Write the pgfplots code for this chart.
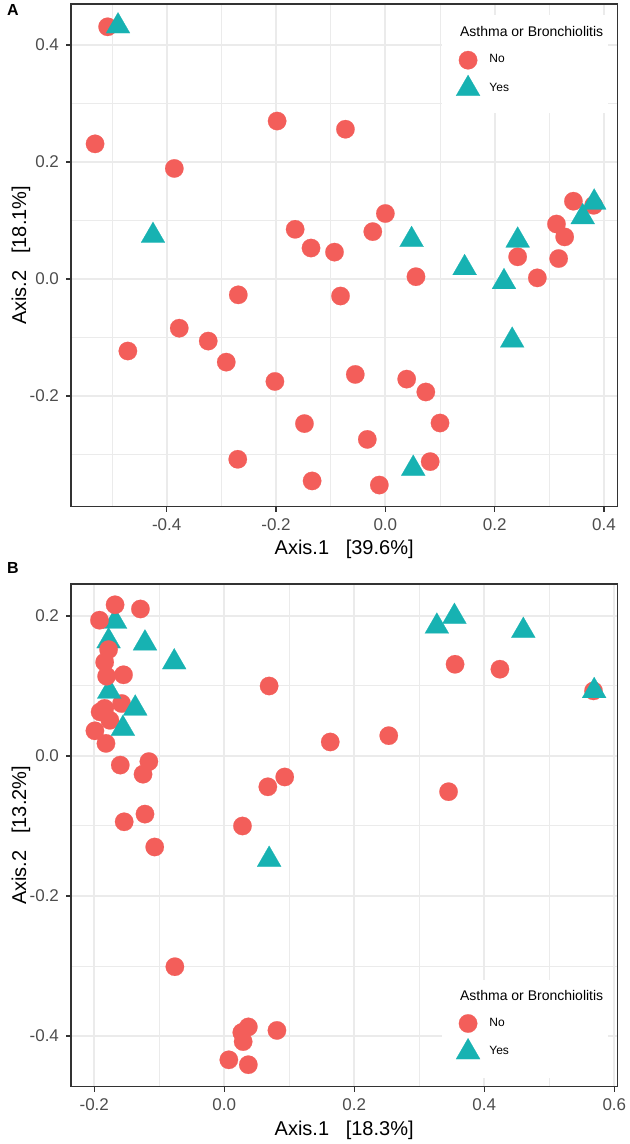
\documentclass[border=0pt]{standalone}
\usepackage{fontspec}
\setmainfont{Liberation Sans}
\usepackage{pgfplots}
\pgfplotsset{compat=1.18}
\definecolor{cRed}{RGB}{243,94,90}
\definecolor{cTeal}{RGB}{23,178,178}
\definecolor{gridc}{RGB}{235,235,235}
\definecolor{framec}{RGB}{51,51,51}
\definecolor{tickc}{RGB}{77,77,77}
\pgfplotsset{
 myaxis/.style={
  scale only axis, width=273.15pt, height=251.35pt,
  axis line style={framec, line width=0.7pt},
  tick style={framec, line width=0.7pt},
  major tick length=2.5pt, minor tick length=0pt,
  tick align=outside, xtick pos=bottom, ytick pos=left,
  grid=both,
  major grid style={gridc, line width=1pt},
  minor grid style={gridc, line width=0.5pt},
  tick label style={font=\fontsize{8.5}{10}\selectfont, text=tickc},
  label style={font=\fontsize{10.5}{12}\selectfont},
  every axis x label/.style={at={(axis description cs:0.5,-0.0961)}, anchor=base},
  every axis y label/.style={at={(axis description cs:-0.0915,0.5)}, rotate=90, anchor=center},
  legend style={draw=none, fill=none, inner sep=0pt, column sep=4.7pt, row sep=2.8pt,
    font=\fontsize{6}{7}\selectfont, nodes={inner sep=0pt}, anchor=north west},
  legend cell align=left,
 },
 noPts/.style={color=cRed, only marks, mark=*, mark size=4.6pt,
   mark options={fill=cRed, draw=cRed, line width=0.1pt},
   legend image code/.code={\draw[##1] plot coordinates {(0pt,0pt)};}},
 yesPts/.style={color=cTeal, only marks, mark=triangle*, mark size=6.9pt,
   mark options={fill=cTeal, draw=cTeal, line width=0.1pt},
   legend image code/.code={\draw[##1] plot coordinates {(0pt,0pt)};}},
}
\begin{document}
\begin{tikzpicture}
\useasboundingbox (0,0) rectangle (315pt,572pt);
% Panel A
\begin{axis}[myaxis, at={(35.5pt,318.65pt)}, anchor=south west,
  xmin=-0.575, xmax=0.4243, ymin=-0.389, ymax=0.470,
  xtick={-0.4,-0.2,0,0.2,0.4}, xticklabels={-0.4,-0.2,0.0,0.2,0.4},
  ytick={-0.2,0,0.2,0.4}, yticklabels={-0.2,0.0,0.2,0.4},
  minor xtick={-0.5,-0.3,-0.1,0.1,0.3}, minor ytick={-0.3,-0.1,0.1,0.3},
  xlabel={Axis.1\ \ \ [39.6\%]}, ylabel={Axis.2\ \ \ [18.1\%]},
  legend style={at={(axis description cs:0.7042,0.9073)}},
]
\fill[white] (axis description cs:0.6791,0.7832) rectangle (axis description cs:0.9837,0.9781);
\node[anchor=base west, font=\fontsize{7}{8}\selectfont] at (axis description cs:0.6993,0.9344) {Asthma or Bronchiolitis};
\addplot[noPts] coordinates {
(-0.508,0.431) (-0.531,0.231) (-0.386,0.189) (-0.198,0.270) (-0.073,0.256)
(-0.165,0.085) (-0.136,0.053) (-0.093,0.046) (0.000,0.112) (-0.023,0.081)
(0.056,0.004) (0.242,0.038) (0.278,0.002) (0.317,0.035) (0.313,0.094)
(0.328,0.072) (0.344,0.133) (0.381,0.126) (-0.269,-0.027) (-0.082,-0.029)
(-0.377,-0.084) (-0.471,-0.123) (-0.324,-0.106) (-0.291,-0.142) (-0.202,-0.175)
(-0.055,-0.163) (-0.148,-0.247) (-0.270,-0.308) (-0.134,-0.345) (0.039,-0.171)
(0.074,-0.193) (0.100,-0.246) (-0.033,-0.274) (0.082,-0.312) (-0.011,-0.352)
};
\addlegendentry{No}
\addplot[yesPts] coordinates {
(-0.489,0.432) (-0.425,0.074) (0.048,0.067) (0.145,0.019) (0.217,-0.005)
(0.242,0.066) (0.232,-0.105) (0.382,0.131) (0.361,0.106) (0.051,-0.324)
};
\addlegendentry{Yes}
\end{axis}
% Panel B
\begin{axis}[myaxis, at={(35.5pt,28.65pt)}, anchor=south west,
  xmin=-0.2358, xmax=0.6046, ymin=-0.4724, ymax=0.2457,
  xtick={-0.2,0,0.2,0.4,0.6}, xticklabels={-0.2,0.0,0.2,0.4,0.6},
  ytick={-0.4,-0.2,0,0.2}, yticklabels={-0.4,-0.2,0.0,0.2},
  minor xtick={-0.1,0.1,0.3,0.5}, minor ytick={-0.3,-0.1,0.1},
  xlabel={Axis.1\ \ \ [18.3\%]}, ylabel={Axis.2\ \ \ [13.2\%]},
  legend style={at={(axis description cs:0.7042,0.1448)}},
]
\fill[white] (axis description cs:0.6791,0.0173) rectangle (axis description cs:0.9837,0.2123);
\node[anchor=base west, font=\fontsize{7}{8}\selectfont] at (axis description cs:0.6993,0.1719) {Asthma or Bronchiolitis};
\addplot[noPts] coordinates {
(-0.158,0.075) (-0.191,0.063) (-0.184,0.068) (-0.176,0.051) (-0.199,0.036)
(-0.182,0.018) (-0.160,-0.013) (-0.116,-0.008) (-0.125,-0.026) (-0.154,-0.094)
(-0.122,-0.083) (-0.107,-0.130) (0.028,-0.100) (0.067,-0.044) (0.093,-0.030)
(0.069,0.100) (0.163,0.020) (0.253,0.029) (0.345,-0.051) (0.355,0.131)
(0.424,0.124) (0.568,0.093) (-0.076,-0.301) (0.037,-0.387) (0.027,-0.395)
(0.029,-0.408) (0.081,-0.392) (0.007,-0.434) (0.037,-0.441)
};
\addlegendentry{No}
\addplot[yesPts] coordinates {
(-0.168,0.192) (-0.178,0.164) (-0.122,0.161) (-0.077,0.134) (-0.177,0.092)
(-0.137,0.068) (-0.156,0.039) (0.327,0.185) (0.354,0.199) (0.460,0.179)
(0.569,0.093) (0.069,-0.148)
};
\addlegendentry{Yes}
\addplot[noPts, forget plot] coordinates {
(-0.168,0.216) (-0.129,0.210) (-0.192,0.194) (-0.178,0.152) (-0.184,0.134)
(-0.181,0.114) (-0.155,0.116)
};
\end{axis}
\node[font=\bfseries\fontsize{8}{9}\selectfont] at (6.5pt,567pt) {A};
\node[font=\bfseries\fontsize{8}{9}\selectfont] at (6.5pt,288pt) {B};
\end{tikzpicture}
\end{document}
